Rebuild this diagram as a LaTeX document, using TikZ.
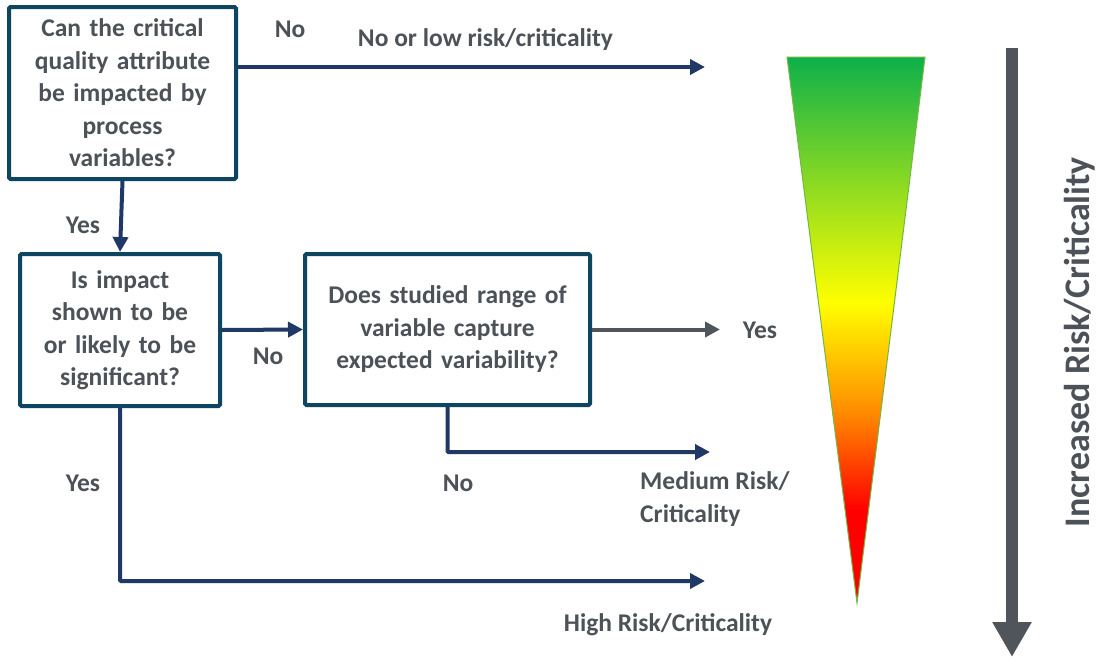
\documentclass[tikz,border=0pt]{standalone}
\usepackage{fontspec}
\setmainfont{Carlito}
\usetikzlibrary{arrows.meta}
\definecolor{txt}{HTML}{4D5259}
\definecolor{boxc}{HTML}{0E4560}
\definecolor{navy}{HTML}{1F3866}
\definecolor{grayarr}{HTML}{50555B}
\definecolor{gA}{HTML}{0DB04B}
\definecolor{gB}{HTML}{80D626}
\definecolor{yC}{HTML}{FFFF00}
\definecolor{oD}{HTML}{FF8C00}
\definecolor{rE}{HTML}{FF0000}
\definecolor{edgeg}{HTML}{72B843}
\pgfdeclareverticalshading{riskgrad}{100bp}{color(0bp)=(rE); color(25bp)=(rE); color(33.5bp)=(rE); color(42.5bp)=(oD); color(52.5bp)=(yC); color(64.5bp)=(gB); color(75bp)=(gA); color(100bp)=(gA)}
\begin{document}
\begin{tikzpicture}[x=1pt,y=-1pt,
  qbox/.style={draw=boxc, line width=4pt, rounded corners=1.5pt, align=center, text=txt,
    font=\fontsize{25.5}{32.5}\selectfont\bfseries, inner sep=0pt},
  lbl/.style={text=txt, font=\fontsize{25.5}{32.5}\selectfont\bfseries, inner sep=0pt},
  arr/.style={draw=navy, line width=4pt, -{Triangle[length=15pt,width=15pt]}},
  garr/.style={draw=grayarr, line width=4pt, -{Triangle[length=15pt,width=15pt]}}
]
\useasboundingbox (0,0) rectangle (1100,659);
\fill[white] (0,0) rectangle (1100,659);

% boxes
\node[qbox, minimum width=227pt, minimum height=172pt, text width=222pt] (b1) at (122.5,93)
  {Can the critical\\quality attribute\\be impacted by\\process\\variables?};
\node[qbox, minimum width=200pt, minimum height=152pt, text width=196pt] (b2) at (120,330)
  {Is impact\\shown to be\\or likely to be\\significant?};
\node[qbox, minimum width=285pt, minimum height=151pt, text width=281pt] (b3) at (447.5,329.5)
  {Does studied range of\\variable capture\\expected variability?};

% free ends
\coordinate (e1) at (705,67);
\coordinate (e3) at (720,329.5);
\coordinate (e4) at (710,452);
\coordinate (e5) at (705,581);

% connectors
\draw[arr] (b1.east |- e1) -- (e1);
\draw[arr] (b1.south) -- (b2.north);
\draw[arr] (b2.east) -- (b3.west);
\draw[garr] (b3.east) -- (e3);
\draw[arr, rounded corners=1pt] (b3.south) |- (e4);
\draw[arr, rounded corners=1pt] (b2.south) |- (e5);

% labels
\node[lbl] (l1) at (290,29) {No};
\node[lbl] (l2) at (485.5,40) {No or low risk/criticality};
\node[lbl] (l3) at (83,225) {Yes};
\node[lbl] (l4) at (268,356) {No};
\node[lbl] (l5) at (760,330) {Yes};
\node[lbl] (l6) at (458,483) {No};
\node[lbl] (l7) at (83,483) {Yes};
\node[lbl, align=left, anchor=west] (l8) at (640,499) {Medium Risk/\\Criticality};
\node[lbl] (l9) at (668,625) {High Risk/Criticality};

% gradient triangle
\shade[shading=riskgrad, draw=edgeg, line width=1pt] (787,57) -- (925,57) -- (857,603) -- cycle;

% big arrow
\coordinate (ba1) at (1012,48);
\coordinate (ba2) at (1012,657);
\draw[grayarr, line width=12pt, -{Triangle[length=35pt,width=37pt]}] (ba1) -- (ba2);
\node[text=txt, font=\fontsize{36}{40}\selectfont\bfseries, rotate=90, inner sep=0pt] (rt) at (1080,342) {Increased Risk/Criticality};
\end{tikzpicture}
\end{document}
